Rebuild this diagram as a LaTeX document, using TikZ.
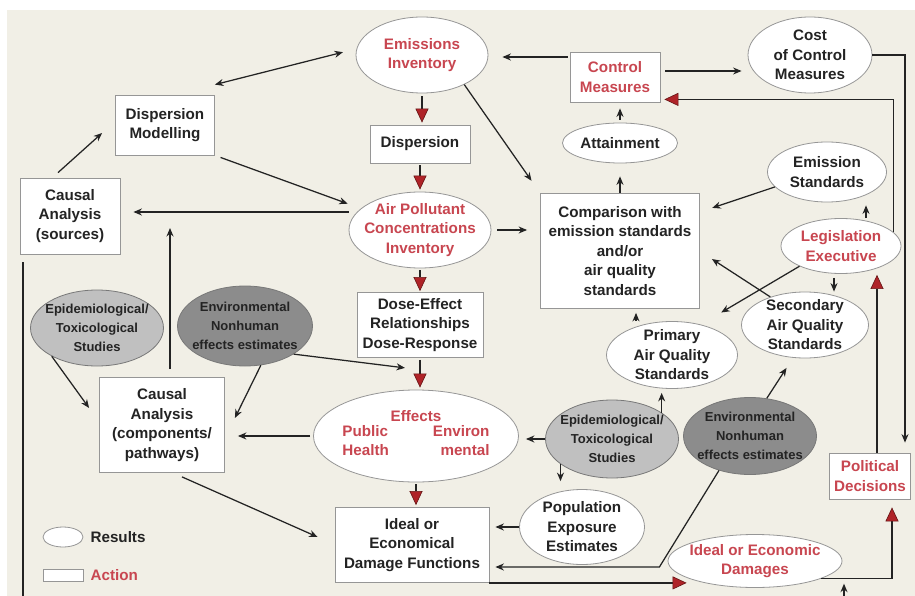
\documentclass[tikz,border=0pt]{standalone}
\usepackage{fontspec}
\setmainfont{Liberation Sans}
\usetikzlibrary{shapes.geometric,arrows.meta,calc}
\definecolor{paper}{RGB}{241,239,230}
\definecolor{ink}{RGB}{35,35,35}
\definecolor{redtxt}{RGB}{200,70,80}
\definecolor{trifill}{RGB}{175,35,40}
\definecolor{triedge}{RGB}{100,20,20}
\definecolor{edge}{RGB}{150,150,150}
\definecolor{studyfill}{RGB}{192,192,192}
\definecolor{nonhumfill}{RGB}{140,140,140}
\tikzset{
  every node/.style={font=\bfseries\fontsize{15.2}{19.5}\selectfont, text=ink},
  result/.style={ellipse, draw=edge, fill=white, line width=0.8pt, align=center, inner xsep=-8pt, inner ysep=-8pt},
  action/.style={rectangle, draw=edge, fill=white, line width=0.8pt, align=center, inner sep=2pt},
  study/.style={result, fill=studyfill, draw=edge!80!black, font=\bfseries\fontsize{13}{19}\selectfont},
  nonhuman/.style={study, fill=nonhumfill},
  redlabel/.style={text=redtxt},
  arr/.style={draw=ink, line width=1.25pt, -{Stealth[length=8.5pt,width=7pt]}},
  darr/.style={arr, {Stealth[length=8.5pt,width=7pt]}-{Stealth[length=8.5pt,width=7pt]}},
  redarr/.style={draw=ink, line width=1.25pt, -{Triangle[length=14pt,width=13pt,fill=trifill,color=triedge,line width=0.6pt]}},
  plain/.style={draw=ink, line width=1.25pt}
}
\begin{document}
\begin{tikzpicture}[x=1pt,y=-1pt]
  \useasboundingbox (0,0) rectangle (915,596);
  \fill[paper] (7,10) rectangle (915,596);

  \node[result, redlabel, minimum width=132pt, minimum height=76pt] (emis) at (422,55) {Emissions\\Inventory};
  \node[action, minimum width=99pt, minimum height=60pt] (dmod) at (165,125) {Dispersion\\Modelling};
  \node[action, minimum width=100pt, minimum height=38pt] (disp) at (420,144) {Dispersion};
  \node[action, minimum width=100pt, minimum height=76pt] (csrc) at (70,216) {Causal\\Analysis\\(sources)};
  \node[result, redlabel, minimum width=142pt, minimum height=76pt] (conc) at (420,230) {Air Pollutant\\Concentrations\\Inventory};
  \node[action, redlabel, minimum width=90pt, minimum height=50pt] (cmeas) at (615,77) {Control\\Measures};
  \node[result, minimum width=124pt, minimum height=76pt] (cost) at (810,55) {Cost\\of Control\\Measures};
  \node[result, minimum width=115pt, minimum height=40pt] (attain) at (620,143) {Attainment};
  \node[action, minimum width=159pt, minimum height=115pt] (comp) at (620,251) {Comparison with\\emission standards\\and/or\\air quality\\standards};
  \node[result, minimum width=119pt, minimum height=60pt] (emstd) at (827,172) {Emission\\Standards};
  \node[result, redlabel, minimum width=120pt, minimum height=55pt] (legis) at (841,246) {Legislation\\Executive};
  \node[result, minimum width=127pt, minimum height=66pt] (secaq) at (805,325) {Secondary\\Air Quality\\Standards};
  \node[result, minimum width=131pt, minimum height=67pt] (primaq) at (672,355) {Primary\\Air Quality\\Standards};
  \node[study, minimum width=133pt, minimum height=76pt] (epiL) at (97,328) {Epidemiological/\\Toxicological\\Studies};
  \node[nonhuman, minimum width=135pt, minimum height=80pt] (envL) at (245,326) {Environmental\\Nonhuman\\effects estimates};
  \node[action, minimum width=126pt, minimum height=65pt] (dose) at (420,325) {Dose-Effect\\Relationships\\Dose-Response};
  \node[action, minimum width=125pt, minimum height=95pt] (cpath) at (162,425) {Causal\\Analysis\\(components/\\pathways)};
  \node[result, redlabel, minimum width=205pt, minimum height=92pt] (effects) at (416,436) {Effects\\\begin{tabular}{@{}l@{\hspace{44pt}}r@{}}Public&Environ\\Health&mental\end{tabular}};
  \node[study, minimum width=133pt, minimum height=78pt] (epiR) at (612,439) {Epidemiological/\\Toxicological\\Studies};
  \node[nonhuman, minimum width=133pt, minimum height=77pt] (envR) at (750,436) {Environmental\\Nonhuman\\effects estimates};
  \node[action, redlabel, minimum width=81pt, minimum height=46pt] (polit) at (870,476) {Political\\Decisions};
  \node[result, minimum width=125pt, minimum height=75pt] (popex) at (582,527) {Population\\Exposure\\Estimates};
  \node[action, minimum width=154pt, minimum height=75pt] (dmgf) at (412,545) {Ideal or\\Economical\\Damage Functions};
  \node[result, redlabel, minimum width=174pt, minimum height=53pt] (dmg) at (755,561) {Ideal or Economic\\Damages};

  \node[result, minimum width=40pt, minimum height=20pt, inner sep=0pt] (legres) at (63,537) {};
  \node[anchor=west, inner sep=0pt] (legrestxt) at ([xshift=7pt]legres.east) {Results};
  \node[action, minimum width=40pt, minimum height=12pt, inner sep=0pt] (legact) at (63,575) {};
  \node[anchor=west, inner sep=0pt, redlabel] (legacttxt) at ([xshift=7pt]legact.east) {Action};

  \draw[darr, shorten >=13pt] ([yshift=10pt]dmod.north east) -- ([yshift=6pt]emis.west);
  \draw[arr] ([xshift=-12pt,yshift=5pt]csrc.north) -- ([xshift=-13pt,yshift=-8pt]dmod.west);
  \draw[arr, shorten <=6pt, shorten >=14pt] (dmod.south east) -- (conc.160);
  \draw[arr, shorten >=13pt] ([yshift=18pt]conc.west) -- ([yshift=18pt]conc.west -| csrc.east);
  \draw[redarr, shorten <=3pt, shorten >=2pt] (emis.south) -- (emis.south |- disp.north);
  \draw[redarr, shorten <=2pt, shorten >=2pt] (disp.south) -- (disp.south |- conc.north);
  \draw[redarr, shorten <=2pt, shorten >=1pt] (conc.south) -- (conc.south |- dose.north);
  \draw[redarr, shorten <=2pt, shorten >=2pt] (dose.south) -- (dose.south |- effects.north);
  \draw[redarr, shorten <=2pt, shorten >=2pt] (effects.south) -- (effects.south |- dmgf.north);
  \draw[arr, shorten >=15pt] (emis.-35) -- (comp.north west);
  \draw[arr, shorten <=6pt, shorten >=13pt] (conc.east) -- (conc.east -| comp.west);
  \draw[arr, shorten <=2pt, shorten >=14pt] ([yshift=20pt]cmeas.west) -- ([yshift=20pt]cmeas.west -| emis.east);
  \draw[arr, shorten <=5pt, shorten >=6pt] ([yshift=6pt]cmeas.east) -- ([yshift=6pt]cmeas.east -| cost.west);
  \draw[arr, shorten <=3pt, shorten >=6pt] (attain.north) -- (attain.north |- cmeas.south);
  \draw[arr, shorten >=13pt] (comp.north) -- (comp.north |- attain.south);
  \draw[arr, shorten >=10pt] (cost.east) -| ([xshift=35pt]polit.north);
  \draw[redarr, shorten >=4pt] (legis.15) |- ([yshift=3pt]cmeas.south east);
  \draw[redarr, shorten >=1pt] ([xshift=7pt]polit.north) -- ([xshift=7pt]polit.north |- legis.south);
  \draw[arr, shorten >=3pt] ([xshift=25pt]legis.north) -- ([xshift=25pt]legis.north |- emstd.south);
  \draw[arr, shorten >=13pt] (emstd.196) -- ([yshift=39pt]comp.east);
  \draw[arr, shorten >=3pt] (legis.206) -- ([yshift=17pt]primaq.north east);
  \draw[arr] (secaq.141) -- ([xshift=12pt,yshift=-8pt]comp.east);
  \draw[arr, shorten <=4pt] ([xshift=-7pt]legis.south) -- ([xshift=-7pt]legis.south |- secaq.north);
  \draw[arr, shorten >=4pt] ([xshift=-36pt]primaq.north) -- ([xshift=-36pt]primaq.north |- comp.south);
  \draw[arr, shorten >=4pt] (epiR.28) -- (epiR.28 |- primaq.south);
  \draw[arr, shorten >=12pt] (envR.66) -- (secaq.-110);
  \draw[arr, shorten >=7pt] (epiR.west) -- (epiR.west -| effects.east);
  \draw[arr, shorten >=8pt] (epiR.206) -- (epiR.206 |- popex.north);
  \draw[arr, shorten >=6pt] (popex.west) -- (popex.west -| dmgf.east);
  \draw[arr, shorten >=6pt] (envR.228) -- ($(dmgf.east)+(170,22)$) -- ($(dmgf.east)+(0,22)$);
  \draw[redarr] (dmgf.south east) -- ($(dmgf.south east -| dmg.west)+(19,0)$);
  \draw[redarr, shorten >=8pt] (dmg.-15) -| ([xshift=22pt]polit.south);
  \coordinate (bot) at (844,596);
  \draw[arr, shorten >=5pt] (bot) -- (bot |- dmg.-15);

  \coordinate (lbot) at (23,596);
  \draw[plain, shorten <=8pt] (lbot |- csrc.south) -- (lbot);
  \draw[arr] ($(cpath.north)+(8,-8)$) -- ($(csrc.east -| cpath.north)+(8,12)$);
  \draw[arr] (epiL.212) -- ([xshift=-10pt,yshift=17pt]cpath.west);
  \draw[arr] (envL.-68) -- ([xshift=10pt,yshift=7pt]cpath.east);
  \draw[arr] (envL.-30) -- ([xshift=-15pt,yshift=-10pt]dose.south);
  \draw[arr, shorten <=3pt, shorten >=13pt] (effects.west) -- (effects.west -| cpath.east);
  \draw[arr] ([xshift=20pt,yshift=-4pt]cpath.south) -- ([xshift=-17pt,yshift=8pt]dmgf.west);
\end{tikzpicture}
\end{document}
